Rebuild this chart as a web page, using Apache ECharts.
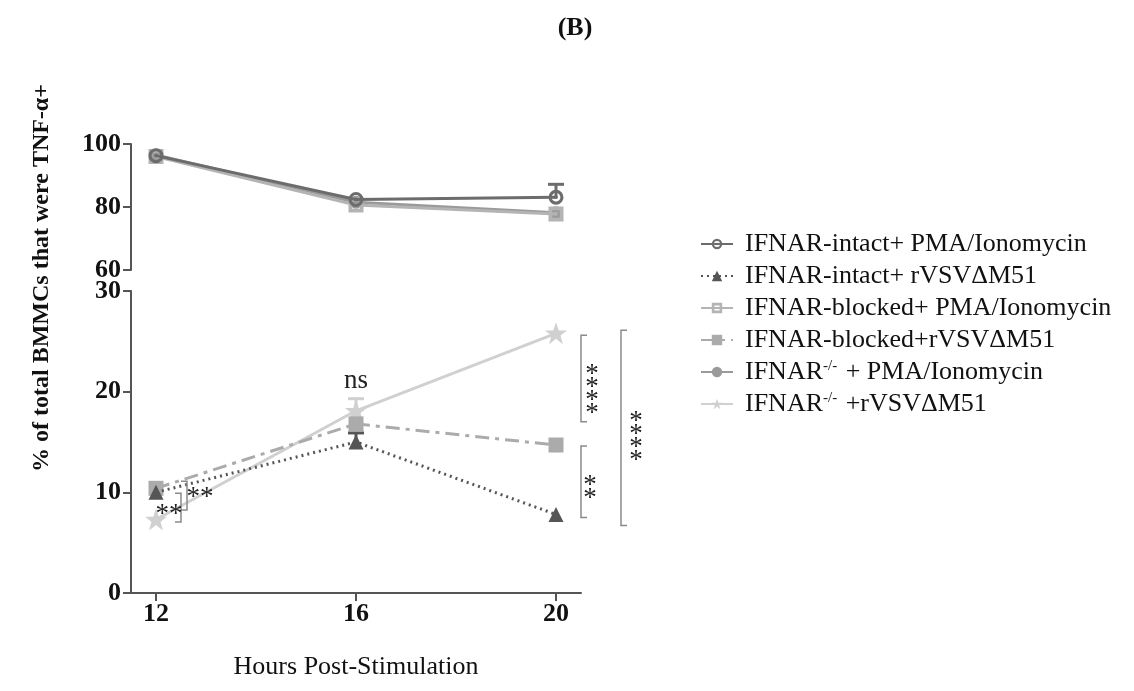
<!DOCTYPE html>
<html>
<head>
<meta charset="utf-8">
<script src="https://cdn.jsdelivr.net/npm/echarts@6/dist/echarts.min.js"></script>
<style>
  html, body { margin: 0; background: #fff; }
  #chart { width: 1134px; height: 691px; }
</style>
</head>
<body>
<div id="chart"></div>
<script>
// hours on the x axis
const hours = [12, 16, 20];
const hourTicks = [12, 16, 20];

const seriesNames = [
  'IFNAR-intact+ PMA/Ionomycin',
  'IFNAR-intact+ rVSVΔM51',
  'IFNAR-blocked+ PMA/Ionomycin',
  'IFNAR-blocked+rVSVΔM51',
  'IFNAR-/- + PMA/Ionomycin',
  'IFNAR-/- +rVSVΔM51'
];

// upper panel (60-100 %)
const intactPma = [96.3, 82.4, 83.1];
const blockedPma = [96.0, 80.6, 77.8];
const knockoutPma = [96.5, 81.5, 78.2];

// lower panel (0-30 %)
const intactRvsv = [10.0, 15.0, 7.8];
const blockedRvsv = [10.4, 16.8, 14.7];
const knockoutRvsv = [7.3, 18.1, 25.8];

// error bars: [hour, mean, upper]
const intactPmaError = [[20, 83.1, 87.2]];
const intactRvsvError = [[16, 15.0, 15.9]];
const knockoutRvsvError = [[16, 18.1, 19.3]];

// significance brackets: [hour, from, to, side]
const brackets = [
  [12.5, 9.9, 7.05, -1],
  [12.62, 11.1, 8.25, -1],
  [20.5, 25.6, 17.0, 1],
  [20.5, 14.6, 7.5, 1],
  [21.3, 26.1, 6.7, 1]
];
const noteSpots = [[12.26, 7.75], [12.88, 9.43], [20.72, 19.7], [20.68, 10.0], [21.6, 15.1], [16, 21.1]];
const noteTexts = ['**', '**', '*\n*\n*\n*', '*\n*', '*\n*\n*\n*', 'ns'];

const SERIF = '"Liberation Serif", "Times New Roman", serif';
const STAR = 'path://M12,0 L15,9 L24,9 L17,14.5 L19.5,24 L12,18 L4.5,24 L7,14.5 L0,9 L9,9 Z';
const RING_DOT = 'path://M12,0 A12,12 0 1,1 11.99,0 Z M12,5 A7,7 0 1,0 12.01,5 Z M12,9 A3,3 0 1,1 11.99,9 Z';
const BOX_DOT = 'path://M0,0 H24 V24 H0 Z M6,6 V18 H18 V6 Z M9.5,9.5 H14.5 V14.5 H9.5 Z';

const toPairs = (values) => hours.map((h, i) => [h, values[i]]);

function lineSeries(name, values, panel, color, symbol, opts = {}) {
  return {
    name,
    type: 'line',
    xAxisIndex: panel,
    yAxisIndex: panel,
    data: toPairs(values),
    symbol,
    symbolSize: opts.size || 14,
    lineStyle: { color, width: 3, type: opts.dash || 'solid' },
    itemStyle: { color },
    z: opts.z || 3,
    animation: false
  };
}

function renderErrorBar(params, api) {
  const base = api.coord([api.value(0), api.value(1)]);
  const top = api.coord([api.value(0), api.value(2)]);
  const stroke = api.visual('color');
  return {
    type: 'group',
    children: [
      { type: 'line', shape: { x1: base[0], y1: base[1], x2: top[0], y2: top[1] }, style: { stroke, lineWidth: 3 } },
      { type: 'line', shape: { x1: top[0] - 8, y1: top[1], x2: top[0] + 8, y2: top[1] }, style: { stroke, lineWidth: 3 } }
    ]
  };
}

function errorSeries(data, panel, color) {
  return {
    type: 'custom',
    xAxisIndex: panel,
    yAxisIndex: panel,
    data,
    itemStyle: { color },
    renderItem: renderErrorBar,
    z: 2,
    silent: true,
    animation: false
  };
}

function renderBracket(params, api) {
  const a = api.coord([api.value(0), api.value(1)]);
  const b = api.coord([api.value(0), api.value(2)]);
  const w = 6 * api.value(3);
  return {
    type: 'polyline',
    shape: { points: [[a[0] + w, a[1]], [a[0], a[1]], [b[0], b[1]], [b[0] + w, b[1]]] },
    style: { stroke: '#8a8a8a', lineWidth: 1.5, fill: null }
  };
}

function renderNote(params, api) {
  const p = api.coord([api.value(0), api.value(1)]);
  return {
    type: 'text',
    x: p[0],
    y: p[1],
    style: {
      text: noteTexts[params.dataIndex],
      fill: '#222',
      font: '27px ' + SERIF,
      align: 'center',
      verticalAlign: 'middle',
      lineHeight: 13
    }
  };
}

const tickFont = { color: '#111', fontFamily: SERIF, fontWeight: 'bold', fontSize: 26 };
const axisGray = { lineStyle: { color: '#555', width: 2 } };

const chart = echarts.init(document.getElementById('chart'), null, { renderer: 'canvas' });

chart.setOption({
  backgroundColor: '#fff',
  animation: false,
  title: {
    text: '(B)',
    left: 570,
    top: 10,
    textAlign: 'center',
    textStyle: { fontFamily: SERIF, fontWeight: 'bold', fontSize: 26, color: '#111' }
  },
  graphic: [{
    type: 'text',
    x: 42,
    y: 278,
    rotation: Math.PI / 2,
    style: {
      text: '% of total BMMCs that were TNF-α+',
      font: 'bold 24px ' + SERIF,
      fill: '#111',
      align: 'center',
      verticalAlign: 'middle'
    }
  }],
  legend: {
    data: seriesNames,
    orient: 'vertical',
    left: 695,
    top: 226,
    itemWidth: 32,
    itemHeight: 13,
    itemGap: 6,
    selectedMode: false,
    formatter: (name) => name.replace('-/-', '{sup|-/-}'),
    textStyle: {
      fontFamily: SERIF,
      fontSize: 26,
      lineHeight: 26,
      color: '#111',
      padding: [0, 0, 0, 7],
      rich: {
        sup: { fontFamily: SERIF, fontSize: 15, verticalAlign: 'top', lineHeight: 26, padding: [0, 2, 10, 0] }
      }
    }
  },
  grid: [
    { left: 131, top: 144, width: 450, height: 126, outerBoundsMode: 'none' },
    { left: 131, top: 291, width: 450, height: 302, outerBoundsMode: 'none' }
  ],
  xAxis: [
    { type: 'value', gridIndex: 0, min: 11.5, max: 20.5, show: false },
    {
      type: 'value',
      gridIndex: 1,
      min: 11.5,
      max: 20.5,
      name: 'Hours Post-Stimulation',
      nameLocation: 'middle',
      nameGap: 61,
      nameTextStyle: { fontFamily: SERIF, fontSize: 26, color: '#111' },
      splitLine: { show: false },
      axisLine: axisGray,
      axisTick: { length: 8, lineStyle: { color: '#555', width: 2 }, customValues: hourTicks },
      axisLabel: Object.assign({ margin: 8, customValues: hourTicks }, tickFont)
    }
  ],
  yAxis: [
    {
      type: 'value',
      gridIndex: 0,
      min: 60,
      max: 100,
      interval: 20,
      splitLine: { show: false },
      axisLine: Object.assign({ show: true }, axisGray),
      axisTick: { show: true, length: 8, lineStyle: { color: '#555', width: 2 } },
      axisLabel: Object.assign({ margin: 10 }, tickFont)
    },
    {
      type: 'value',
      gridIndex: 1,
      min: 0,
      max: 30,
      interval: 10,
      splitLine: { show: false },
      axisLine: Object.assign({ show: true }, axisGray),
      axisTick: { show: true, length: 8, lineStyle: { color: '#555', width: 2 } },
      axisLabel: Object.assign({ margin: 10 }, tickFont)
    }
  ],
  series: [
    lineSeries(seriesNames[4], knockoutPma, 0, '#9a9a9a', 'circle', { size: 13, z: 3 }),
    lineSeries(seriesNames[2], blockedPma, 0, '#b4b4b4', BOX_DOT, { size: 15, z: 4 }),
    lineSeries(seriesNames[0], intactPma, 0, '#6c6c6c', RING_DOT, { size: 15, z: 5 }),
    lineSeries(seriesNames[1], intactRvsv, 1, '#555555', 'triangle', { size: 15, dash: [2, 4], z: 5 }),
    lineSeries(seriesNames[3], blockedRvsv, 1, '#ababab', 'rect', { size: 15, dash: [14, 6, 4, 6], z: 4 }),
    lineSeries(seriesNames[5], knockoutRvsv, 1, '#d0d0d0', STAR, { size: 22, z: 3 }),
    errorSeries(intactPmaError, 0, '#6c6c6c'),
    errorSeries(intactRvsvError, 1, '#555555'),
    errorSeries(knockoutRvsvError, 1, '#d0d0d0'),
    {
      type: 'custom',
      xAxisIndex: 1,
      yAxisIndex: 1,
      data: brackets,
      renderItem: renderBracket,
      clip: false,
      silent: true,
      z: 6
    },
    {
      type: 'custom',
      xAxisIndex: 1,
      yAxisIndex: 1,
      data: noteSpots,
      renderItem: renderNote,
      clip: false,
      silent: true,
      z: 7
    }
  ]
});
</script>
</body>
</html>
